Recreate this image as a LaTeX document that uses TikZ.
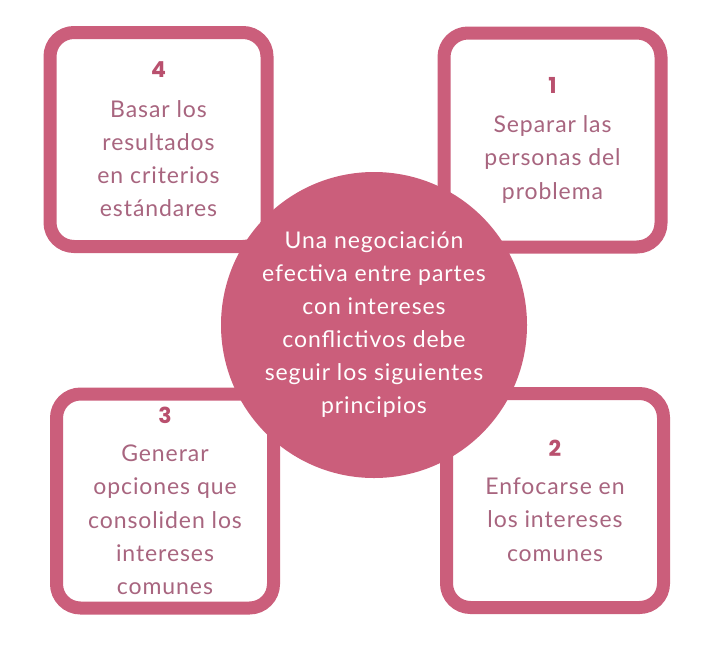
\documentclass[tikz,border=0pt]{standalone}
\usepackage{fontspec}
\setmainfont{Lato}[LetterSpace=4]
\newfontfamily\numfont{Poppins}
\definecolor{rosa}{HTML}{CB5E7B}
\definecolor{malva}{HTML}{A8657F}
\definecolor{rosanum}{HTML}{B9506E}
\newcommand{\numero}[1]{{\numfont\bfseries\fontsize{22}{22}\selectfont\color{rosanum}#1}}

\begin{document}
\begin{tikzpicture}
        [
            x=1pt, y=-1pt,
            caja/.style = {draw=rosa, fill=white, shape=rectangle, rounded corners=24pt, minimum width=217pt, minimum height=214pt, line width=13pt, text=malva, align=center, font=\fontsize{23}{33.3}\selectfont},
            centro/.style = {shape=circle, fill=rosa, minimum size=306pt, inner sep=0pt, text=white, align=center, font=\fontsize{23}{33}\selectfont},
        ]
        \useasboundingbox (0,0) rectangle (708,656);

        \node[caja] (caja4) at (158.5,139.5) {\numero{4}\\[6pt]Basar los\\resultados\\en criterios\\estándares};
        \node[caja] (caja1) at (552.5,140)   {\numero{1}\\[6pt]Separar las\\personas del\\problema};
        \node[caja] (caja3) at (165,501)     {\numero{3}\\[5pt]Generar\\opciones que\\consoliden los\\intereses\\comunes};
        \node[caja] (caja2) at (555,500.5)   {\numero{2}\\[5pt]Enfocarse en\\los intereses\\comunes};

        \node[centro] (centro) at (374,325) {Una negociación\\efectiva entre partes\\con intereses\\conflictivos debe\\seguir los siguientes\\principios};
    \end{tikzpicture}
\end{document}
